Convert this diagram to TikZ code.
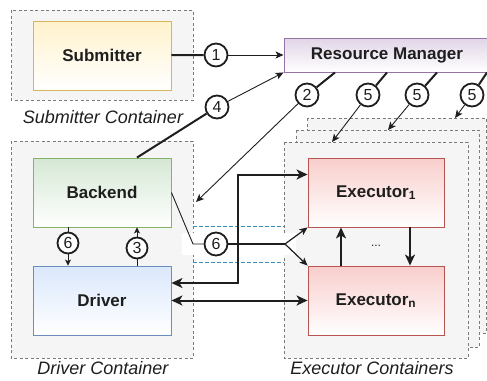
\documentclass[tikz,border=0pt]{standalone}
\usepackage{fontspec}
\setmainfont{Liberation Sans}
\usetikzlibrary{arrows.meta}
\usetikzlibrary{calc}

\definecolor{txt}{HTML}{1E1E1E}
\definecolor{contfill}{HTML}{F5F5F5}
\definecolor{contline}{HTML}{7A7A7A}
\definecolor{chanline}{HTML}{3B8FBD}
\definecolor{subtop}{HTML}{FFF2CC}
\definecolor{subline}{HTML}{D6B656}
\definecolor{rmtop}{HTML}{E1D5E7}
\definecolor{rmline}{HTML}{9673A6}
\definecolor{betop}{HTML}{D5E8D4}
\definecolor{beline}{HTML}{82B366}
\definecolor{drtop}{HTML}{DAE8FC}
\definecolor{drline}{HTML}{6C8EBF}
\definecolor{extop}{HTML}{F8CECC}
\definecolor{exline}{HTML}{B85450}

\tikzset{
  container/.style={draw=contline, fill=contfill, line width=0.8pt, dash pattern=on 3pt off 2.5pt},
  chan/.style={draw=chanline, line width=1pt, dash pattern=on 3.5pt off 2.5pt},
  box/.style={draw, line width=0.9pt, minimum width=138pt, minimum height=69pt, inner sep=0pt,
    text=txt, font=\fontsize{17}{17}\selectfont\bfseries},
  caption/.style={text=txt, font=\fontsize{18}{18}\selectfont\itshape},
  numc/.style={circle, draw=txt, fill=white, line width=1.8pt, minimum size=23pt, inner sep=0pt,
    text=txt, font=\fontsize{16}{16}\selectfont},
  heavy/.style={draw=txt, line width=2pt},
  light/.style={draw=txt, line width=0.9pt, -{Stealth[length=8pt,width=7pt,inset=2pt]}},
  tiny/.style={draw=txt, line width=0.9pt, -{Stealth[length=6pt,width=6pt,inset=1.5pt]}},
  bigtip/.tip={Stealth[length=11pt,width=10pt,inset=3pt]}
}

\begin{document}
\begin{tikzpicture}[x=1pt,y=-1pt]
\useasboundingbox (0,0) rectangle (487,380);

% containers
\draw[container] (11,10) rectangle (193,100);
\draw[container] (11,141) rectangle (193,358);
\draw[container] (307,118) rectangle (486,333);
\draw[container] (296,130) rectangle (479,347);
\draw[container] (284,142) rectangle (468,358);

% channel between driver and executors
\fill[white] (182,233) rectangle (296,255);
\draw[chan] (193,226) -- (284,226);
\draw[chan] (193,262) -- (284,262);

% boxes
\node[box, draw=subline, top color=subtop, bottom color=white] (sub) at (102,55.5) {Submitter};
\node[box, draw=rmline, top color=rmtop, bottom color=white, minimum width=206pt, minimum height=34pt] (rm) at (387,55) {Resource Manager};
\node[box, draw=beline, top color=betop, bottom color=white] (be) at (102,192.5) {Backend};
\node[box, draw=drline, top color=drtop, bottom color=white] (dr) at (102,300.5) {Driver};
\node[box, draw=exline, top color=extop, bottom color=white, minimum width=136pt] (ex1) at (376,192.5) {Executor\textsubscript{1}};
\node[box, draw=exline, top color=extop, bottom color=white, minimum width=136pt] (exn) at (376,300.5) {Executor\textsubscript{n}};
\node[text=txt, font=\fontsize{12}{12}\selectfont] (dots) at (376,246) {...};

\node[caption] (subcap) at (103,117) {Submitter Container};
\node[caption] (drcap) at (103,368) {Driver Container};
\node[caption] (excap) at (372,368) {Executor Containers};

% step numbers
\node[numc] (n1) at (216,55) {1};
\node[numc] (n4) at (217,107) {4};
\node[numc] (n2) at (307,95) {2};
\node[numc] (n5a) at (368,95) {5};
\node[numc] (n5b) at (417,95) {5};
\node[numc] (n5c) at (472,95) {5};
\node[numc, minimum size=21pt] (n6) at (68,243) {6};
\node[numc, minimum size=21pt] (n3) at (137,248) {3};
\node[numc] (n6r) at (216,244) {6};

\coordinate (bend) at (193,244);
\coordinate (fork) at (285,244);
\coordinate (t2) at (196,202);
\coordinate (t5a) at (332,142);
\coordinate (t5b) at (388,130);
\coordinate (t5c) at (455,118);

% submit and register
\draw[heavy] (sub) -- (n1);
\draw[light] (n1) -- (rm);
\draw[heavy] ([xshift=35pt]be.north) -- (n4);
\draw[light] (n4) -- (rm.south west);

% allocation
\draw[heavy] ([xshift=-52pt]rm.south) -- (n2);
\draw[light] (n2) -- (t2);
\draw[heavy] (rm.south) -- (n5a);
\draw[light] (n5a) -- (t5a);
\draw[heavy] ([xshift=50pt]rm.south) -- (n5b);
\draw[light] (n5b) -- (t5b);
\draw[heavy] ([xshift=100pt]rm.south) -- (n5c);
\draw[light] (n5c) -- (t5c);

% backend <-> driver
\draw[draw=txt, line width=0.9pt] (be.south -| n6) -- (n6);
\draw[tiny] (n6) -- (dr.north -| n6);
\draw[draw=txt, line width=0.9pt] (dr.north -| n3) -- (n3);
\draw[tiny] (n3) -- (be.south -| n3);

% backend -> executors
\draw[draw=txt, line width=0.9pt] (be.east) -- (bend) -- (n6r);
\draw[heavy] (n6r) -- (fork);
\draw[light, line width=1.2pt] (fork) -- (ex1.south west);
\draw[light, line width=1.2pt] (fork) -- (exn.north west);

% driver <-> executors
\draw[draw=txt, line width=2pt, bigtip-bigtip] ([yshift=17.5pt]dr.east) -- ++(67,0) |- ([yshift=18pt]ex1.west);
\draw[draw=txt, line width=2pt, bigtip-bigtip] (dr.east) -- (exn.west);
\draw[draw=txt, line width=2pt, -bigtip] ([xshift=-35pt]exn.north) -- ([xshift=-35pt]ex1.south);
\draw[draw=txt, line width=2pt, -bigtip] ([xshift=34pt]ex1.south) -- ([xshift=34pt]exn.north);
\end{tikzpicture}
\end{document}
